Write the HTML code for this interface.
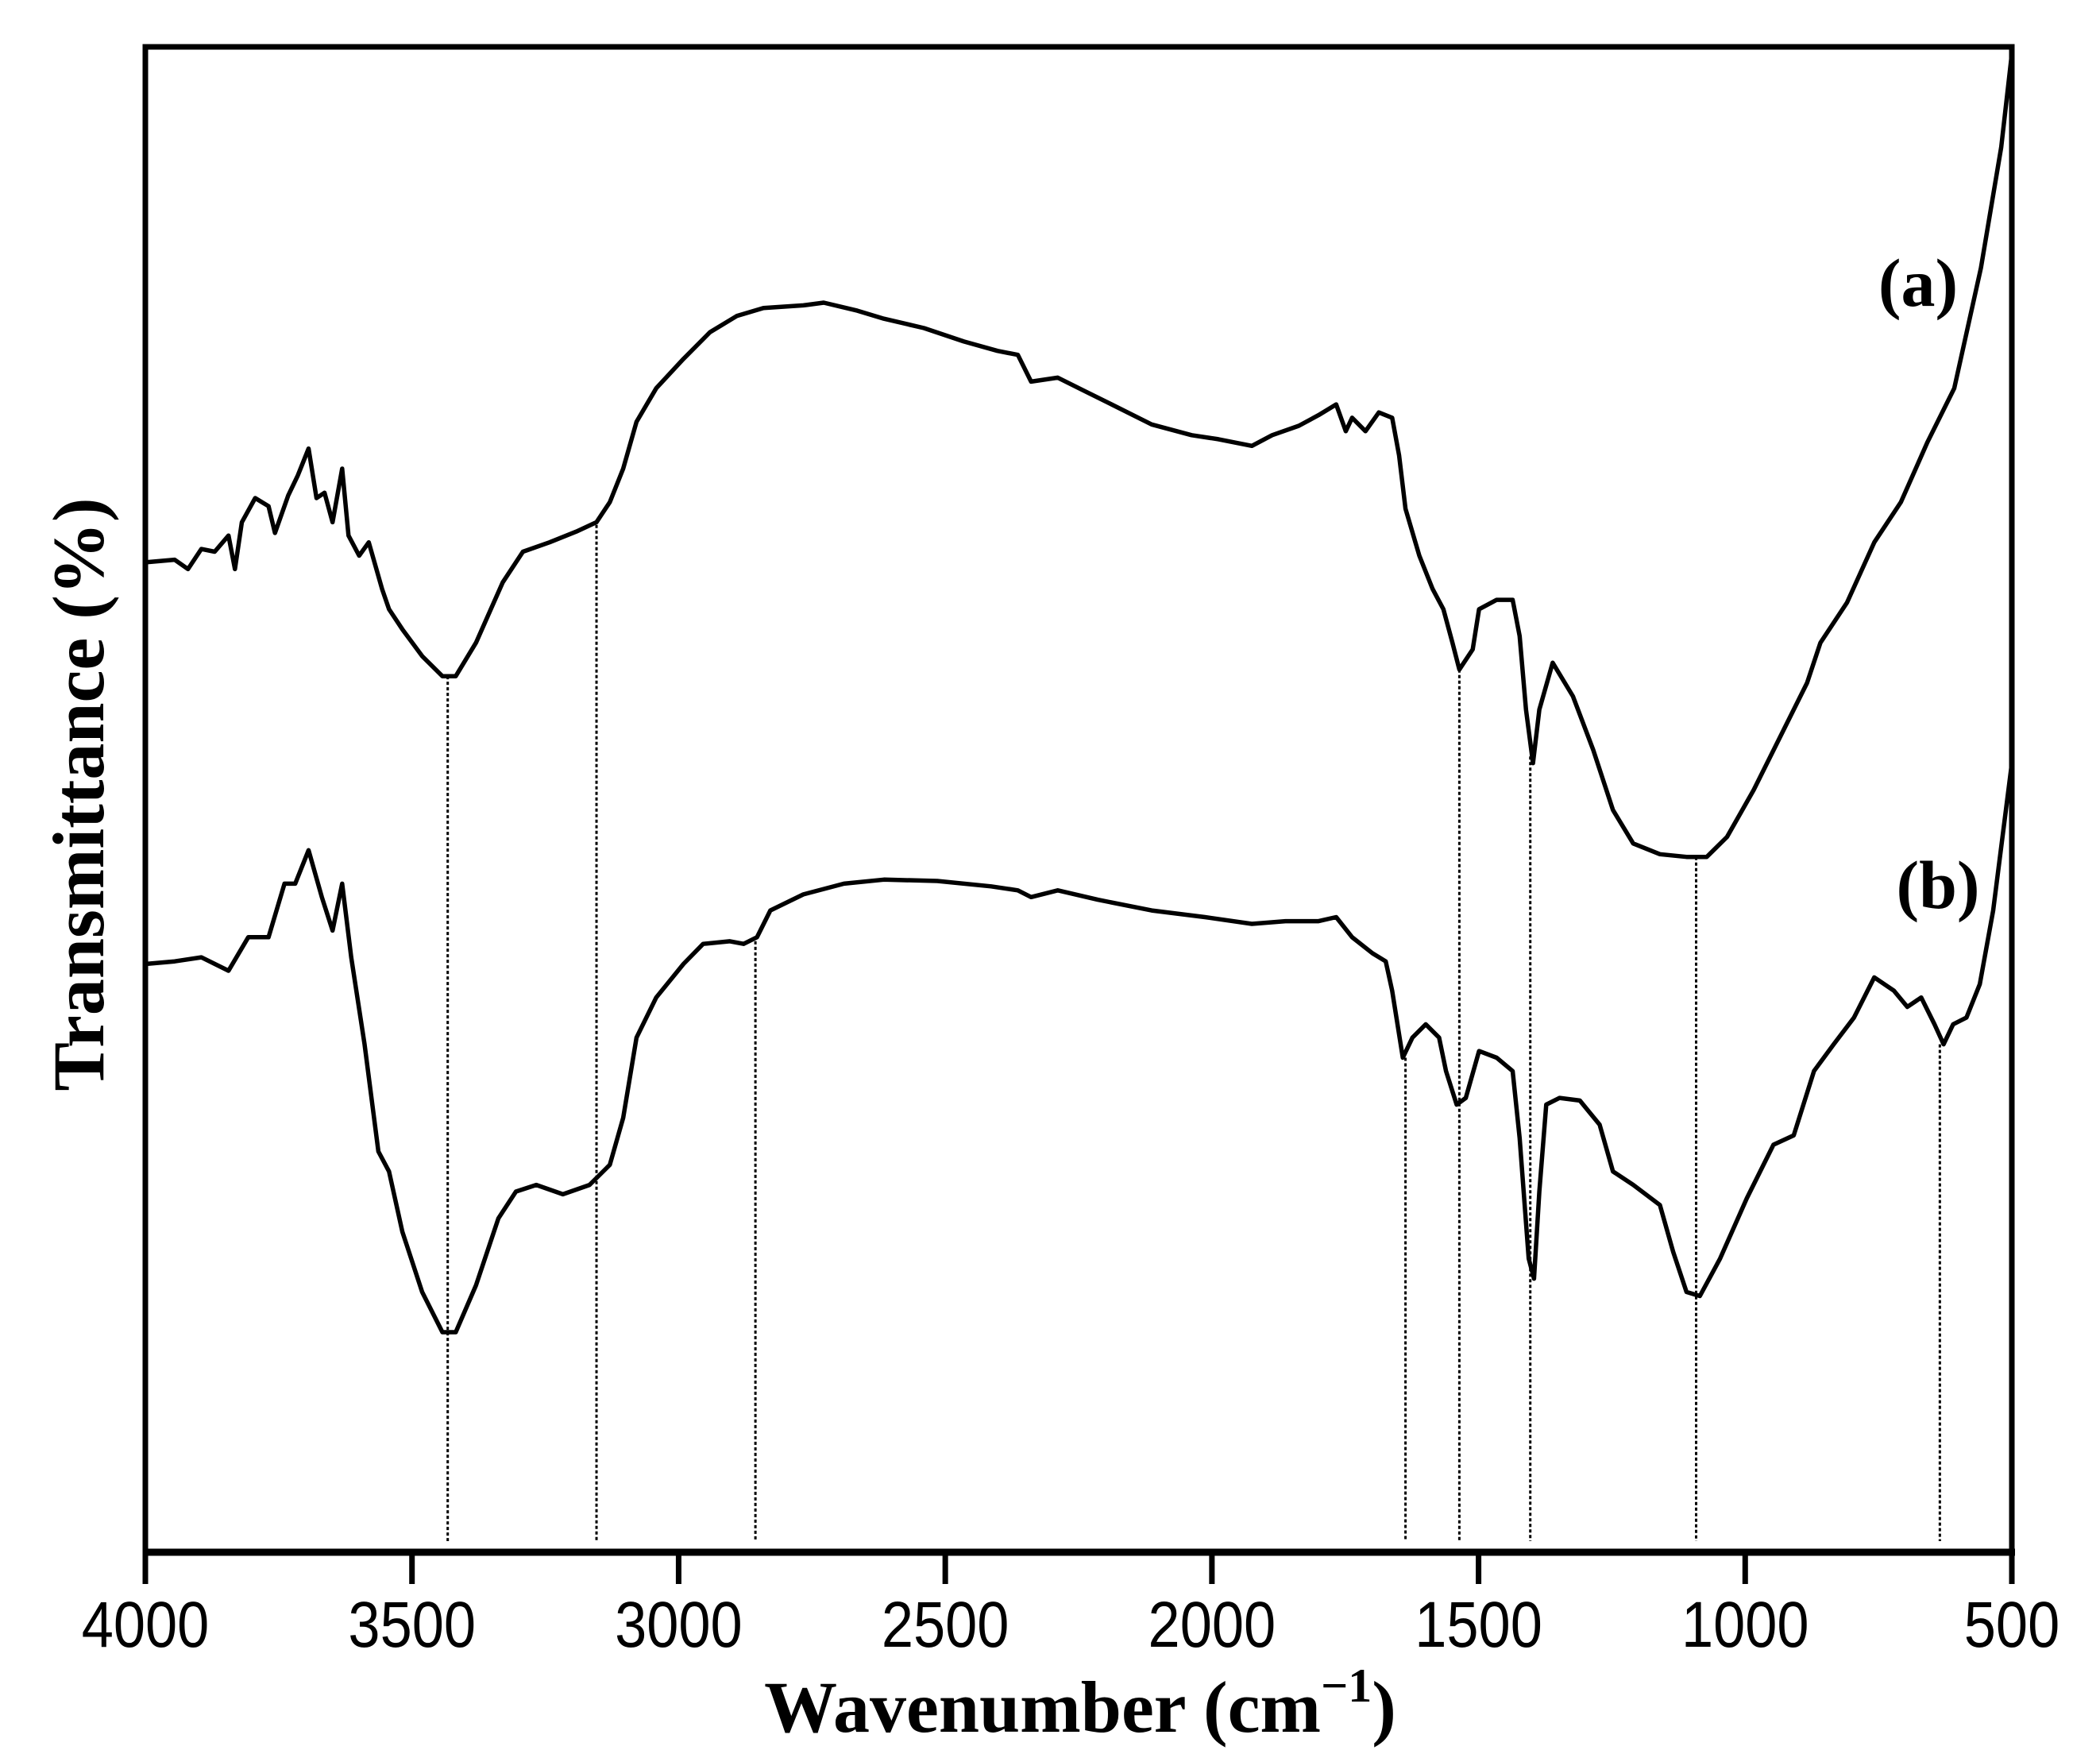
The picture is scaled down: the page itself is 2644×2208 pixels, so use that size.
<!DOCTYPE html>
<html><head><meta charset="utf-8"><style>
html,body{margin:0;padding:0;background:#fff;}
svg{display:block;}
</style></head><body>
<svg id="chart" width="2644" height="2208" viewBox="0 0 2644 2208" xmlns="http://www.w3.org/2000/svg">
<g id="marks"></g>
<rect x="183" y="59" width="2350" height="1895" fill="none" stroke="#000" stroke-width="7"/>
<line x1="180" y1="1954" x2="2537" y2="1954" stroke="#000" stroke-width="9"/>
<g id="xticks"></g>
<text x="1360" y="2180" text-anchor="middle" font-family="Liberation Serif, serif" font-weight="bold" font-size="92">Wavenumber (cm<tspan font-size="60" dy="-38">−1</tspan><tspan dy="38">)</tspan></text>
<text transform="translate(130,1000) rotate(-90)" text-anchor="middle" font-family="Liberation Serif, serif" font-weight="bold" font-size="92">Transmittance (%)</text>
<text x="2415" y="385" text-anchor="middle" font-family="Liberation Serif, serif" font-weight="bold" font-size="86">(a)</text>
<text x="2440" y="1143" text-anchor="middle" font-family="Liberation Serif, serif" font-weight="bold" font-size="86">(b)</text>
</svg>
<script>
const xTicks=[4000,3500,3000,2500,2000,1500,1000,500];
const wnA=[4000,3945,3920,3895,3870,3844,3832,3819,3794,3769,3757,3732,3714,3694,3679,3664,3649,3631,3619,3599,3581,3556,3543,3518,3481,3443,3418,3380,3330,3292,3242,3192,3154,3129,3104,3079,3042,2991,2941,2891,2841,2766,2728,2665,2615,2540,2465,2402,2364,2339,2289,2239,2188,2113,2038,1988,1925,1887,1837,1800,1767,1749,1737,1712,1687,1662,1649,1637,1611,1586,1566,1549,1536,1511,1499,1466,1436,1423,1411,1398,1386,1361,1323,1285,1248,1210,1160,1110,1072,1034,984,934,884,859,809,758,708,658,608,558,520,500];
const tA=[737,739,732,747,745,757,732,767,785,779,759,787,802,822,785,789,767,807,757,742,752,717,702,687,667,652,652,677,722,745,752,760,767,782,807,842,867,889,909,921,927,929,931,925,919,912,902,895,892,872,875,865,855,840,832,829,824,832,839,847,855,835,845,835,849,845,817,777,742,717,702,677,657,672,702,709,709,682,627,587,627,662,637,597,552,527,519,517,517,532,567,607,647,677,707,752,782,827,867,957,1047,1117];
const wnB=[4000,3945,3895,3844,3807,3769,3739,3719,3694,3669,3649,3631,3614,3589,3563,3543,3518,3481,3443,3418,3380,3338,3305,3267,3217,3167,3129,3104,3079,3042,2991,2954,2904,2878,2853,2828,2766,2690,2615,2515,2414,2364,2339,2289,2214,2113,2013,1925,1862,1800,1767,1737,1699,1674,1662,1642,1624,1599,1574,1561,1541,1524,1499,1466,1436,1423,1406,1396,1386,1373,1348,1310,1273,1248,1210,1160,1135,1110,1085,1047,997,947,909,871,834,796,758,721,696,670,645,628,610,585,560,535,500];
const tB=[437,439,442,432,457,457,497,497,522,487,462,497,442,377,297,282,237,192,162,162,197,247,267,272,265,272,287,322,382,412,437,452,454,452,457,477,489,497,500,499,495,492,487,492,485,477,472,467,469,469,472,457,445,439,417,367,382,392,382,357,332,337,372,367,357,307,217,202,267,332,337,335,317,282,272,257,222,192,189,217,262,302,309,357,377,397,427,417,405,412,392,377,392,397,422,477,587];
const peakWn=[3433,3154,2856,1637,1536,1403,1092,635];
const peakT=[652,765,454,367,657,592,517,377];
const NS='http://www.w3.org/2000/svg';
const xS=w=>183+(4000-w)/3500*2350;
const yS=t=>1950-t*1.6853;
const marks=document.getElementById('marks');
peakWn.forEach((w,i)=>{
  const l=document.createElementNS(NS,'line');
  
  
  l.setAttribute('x1',xS(w));l.setAttribute('x2',xS(w));
  l.setAttribute('y1',yS(peakT[i]));l.setAttribute('y2',1940);
  l.setAttribute('stroke','#000');l.setAttribute('stroke-width','3');l.setAttribute('stroke-dasharray','4 3');
  marks.appendChild(l);
});
function drawSeries(wn,t,name){
  const n=Math.min(wn.length,t.length);let d='';
  for(let i=0;i<n;i++)d+=(i?'L':'M')+xS(wn[i]).toFixed(1)+','+yS(t[i]).toFixed(1);
  const p=document.createElementNS(NS,'path');
  
  
  p.setAttribute('d',d);p.setAttribute('fill','none');p.setAttribute('stroke','#000');
  p.setAttribute('stroke-width','5.5');p.setAttribute('stroke-linejoin','round');
  marks.appendChild(p);
}
drawSeries(wnA,tA,'spectrum-a');
drawSeries(wnB,tB,'spectrum-b');
const xt=document.getElementById('xticks');
xTicks.forEach(v=>{
  const l=document.createElementNS(NS,'line');
  
  
  l.setAttribute('x1',xS(v));l.setAttribute('x2',xS(v));l.setAttribute('y1',1954);l.setAttribute('y2',1994);
  l.setAttribute('stroke','#000');l.setAttribute('stroke-width','7');
  xt.appendChild(l);
  const tx=document.createElementNS(NS,'text');
  
  
  tx.setAttribute('x',xS(v));tx.setAttribute('y',2073);tx.setAttribute('text-anchor','middle');
  tx.setAttribute('font-family','Liberation Sans, sans-serif');tx.setAttribute('font-size','76');
  tx.setAttribute('transform','translate('+xS(v)+',2073) scale(0.95,1.08) translate('+(-xS(v))+',-2073)');
  tx.textContent=v;
  xt.appendChild(tx);
});
</script>
</body></html>
